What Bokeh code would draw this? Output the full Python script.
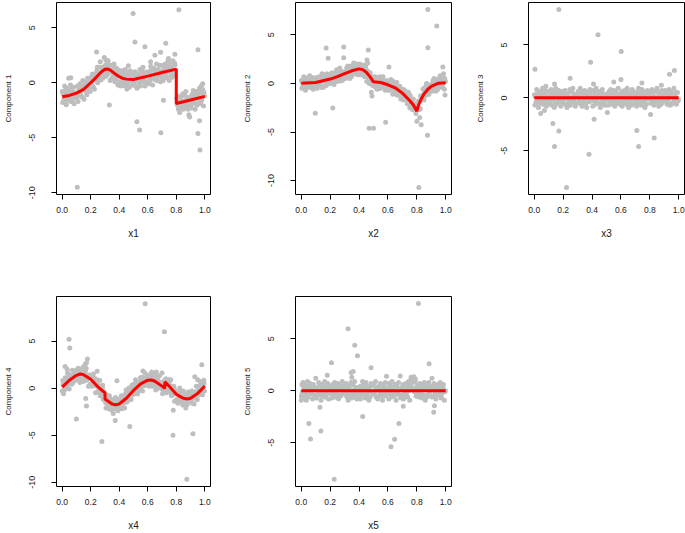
from bokeh.plotting import figure
from bokeh.layouts import row, column
from bokeh.models import Range1d, FixedTicker, NumeralTickFormatter
from bokeh.embed import file_html
from bokeh.resources import INLINE

# ---- x positions of the dense band of points ----
band_x = [
    0.001,0.004,0.009,0.012,0.017,0.021,0.026,0.029,0.035,0.038,0.043,0.049,0.052,0.058,0.061,0.067,0.072,0.078,0.084,0.093,
    0.102,0.106,0.111,0.117,0.121,0.124,0.129,0.136,0.139,0.144,0.148,0.153,0.159,0.162,0.168,0.173,0.177,0.184,0.189,0.196,
    0.201,0.205,0.212,0.215,0.219,0.226,0.231,0.234,0.239,0.246,0.249,0.253,0.258,0.264,0.267,0.273,0.279,0.284,0.288,0.295,
    0.303,0.307,0.311,0.318,0.322,0.325,0.331,0.336,0.341,0.344,0.349,0.356,0.358,0.363,0.369,0.374,0.378,0.385,0.391,0.397,
    0.402,0.405,0.409,0.416,0.419,0.424,0.428,0.435,0.438,0.443,0.448,0.454,0.457,0.462,0.468,0.471,0.477,0.483,0.489,0.494,
    0.501,0.506,0.511,0.514,0.518,0.525,0.529,0.533,0.538,0.545,0.548,0.552,0.557,0.563,0.566,0.572,0.578,0.581,0.587,0.596,
    0.603,0.606,0.609,0.615,0.621,0.624,0.628,0.634,0.639,0.643,0.649,0.653,0.656,0.661,0.668,0.673,0.677,0.682,0.689,0.694,
    0.698,0.704,0.708,0.713,0.717,0.722,0.727,0.732,0.736,0.742,0.746,0.751,0.755,0.761,0.766,0.771,0.776,0.783,0.788,0.794,
    0.803,0.806,0.811,0.815,0.821,0.824,0.829,0.834,0.838,0.845,0.849,0.852,0.858,0.861,0.867,0.872,0.878,0.883,0.887,0.893,
    0.901,0.905,0.909,0.914,0.919,0.925,0.928,0.932,0.938,0.941,0.947,0.953,0.956,0.962,0.967,0.971,0.978,0.984,0.991,0.998,
]
band_x2 = [
    0.006,0.015,0.024,0.033,0.046,0.055,0.064,0.075,0.081,0.097,
    0.108,0.114,0.127,0.133,0.142,0.151,0.165,0.171,0.181,0.193,
    0.208,0.217,0.223,0.237,0.243,0.256,0.262,0.271,0.282,0.292,
    0.305,0.314,0.327,0.334,0.347,0.353,0.366,0.372,0.383,0.394,
    0.407,0.413,0.426,0.432,0.446,0.451,0.465,0.474,0.486,0.497,
    0.504,0.516,0.522,0.536,0.543,0.555,0.561,0.574,0.584,0.592,
    0.601,0.612,0.618,0.631,0.637,0.646,0.659,0.664,0.676,0.686,
    0.701,0.711,0.719,0.725,0.734,0.744,0.753,0.764,0.774,0.791,
    0.808,0.818,0.826,0.836,0.843,0.855,0.864,0.875,0.881,0.896,
    0.903,0.912,0.922,0.935,0.944,0.951,0.959,0.969,0.981,0.994,
]

# ---- Component 1 ----
y1_band = [
    -0.8,-1.8,-1.0,-1.5,-0.3,-1.3,-0.6,-2.0,-1.1,-0.5,-1.6,-0.9,-1.2,-0.2,-1.7,-0.7,-1.4,-0.4,-1.9,-1.0,
    -1.4,-0.3,-1.7,-0.7,-0.8,-0.1,-1.1,-0.3,-1.3,0.2,-0.5,-1.5,0.0,-0.7,-0.2,-1.1,0.4,-0.4,0.3,-0.8,
    0.5,0.0,0.8,-0.4,0.5,-0.6,0.8,0.6,0.3,1.4,0.0,0.8,1.4,0.5,1.9,0.9,1.4,0.4,1.4,0.7,
    1.6,0.6,1.4,0.8,2.0,0.9,1.6,0.2,1.0,1.6,0.4,1.1,0.7,1.7,0.1,1.1,0.3,1.3,-0.2,0.7,
    0.1,1.1,-0.3,0.6,0.4,1.1,0.1,0.8,-0.3,1.2,0.4,-0.6,0.8,0.1,0.6,-0.4,1.1,0.2,0.9,-0.2,
    0.8,0.2,1.0,-0.3,0.5,-0.5,0.8,0.5,0.1,1.2,-0.3,0.5,1.1,0.1,1.4,0.3,0.8,-0.3,0.8,0.1,
    0.9,-0.1,0.7,0.3,1.5,0.5,1.2,-0.2,0.7,1.3,0.3,1.0,0.7,1.7,0.2,1.2,0.6,1.6,0.1,1.0,
    0.5,1.6,0.2,1.2,1.0,1.7,0.7,1.4,0.5,2.0,1.2,0.2,1.6,0.9,1.4,0.5,2.0,1.1,1.8,0.7,
    -1.4,-2.0,-1.2,-2.4,-1.6,-2.7,-1.4,-1.7,-2.1,-1.0,-2.4,-1.7,-1.1,-2.1,-0.8,-1.9,-1.4,-2.4,-1.4,-2.1,
    -1.3,-2.3,-1.5,-1.9,-0.7,-1.7,-1.0,-2.4,-1.4,-0.8,-1.9,-1.2,-1.5,-0.5,-1.9,-0.9,-1.6,-0.6,-2.1,-1.2,
]
y1_band2 = [
    -0.95,-1.65,-0.75,-1.35,-0.55,-1.55,-1.05,-1.75,-0.85,-1.25,
    -1.23,-0.4,-0.94,-0.5,-1.34,-0.48,0.02,-0.92,-0.44,0.1,
    0.25,-0.35,0.62,0.2,1.08,0.25,0.82,0.25,1.3,1.05,
    0.95,1.73,1.05,1.4,0.4,1.15,1.45,0.4,0.7,1.0,
    0.72,-0.02,0.82,0.2,0.94,-0.07,0.4,-0.3,0.6,0.2,
    0.01,0.84,0.26,0.7,-0.18,0.66,1.08,0.12,0.55,0.98,
    0.8,0.14,1.06,0.5,1.32,0.35,0.89,0.2,1.14,0.78,
    0.63,1.47,0.89,1.31,0.44,1.27,1.7,0.73,1.16,1.61,
    -1.67,-2.34,-1.42,-1.98,-1.16,-2.13,-1.6,-2.27,-1.35,-1.71,
    -1.87,-1.04,-1.61,-1.17,-2.04,-1.22,-0.8,-1.77,-1.33,-0.86,
]
x1_out = [0.497,0.818,0.51,0.241,0.58,0.726,0.65,0.69,0.952,0.331,0.71,0.524,0.543,0.692,0.963,0.952,0.966,0.106,
          0.894,0.888,0.464,0.045,0.06,0.79,0.295,0.305,0.985,0.975,0.745,0.62]
y1_out = [6.3,6.64,3.7,2.8,3.27,3.58,2.5,2.76,3.0,-2.03,-1.58,-3.55,-4.3,-4.55,-3.45,-4.6,-6.1,-9.5,
          -3.1,-2.9,1.55,0.4,0.45,2.6,2.3,2.1,-0.1,-0.3,2.2,1.9]
line1_x = [0.0,0.05,0.1,0.15,0.2,0.225,0.25,0.275,0.3,0.32,0.34,0.36,0.38,0.4,0.425,0.45,0.5,0.6,0.7,0.8,0.8,0.9,1.0]
line1_y = [-1.27,-1.15,-0.94,-0.6,0.0,0.32,0.66,1.0,1.23,1.25,1.12,0.92,0.72,0.55,0.4,0.33,0.3,0.6,0.93,1.24,-1.88,-1.56,-1.24]

# ---- Component 2 ----
y2_band = [
    0.3,-0.5,0.1,-0.3,0.7,-0.1,0.4,-0.7,0.0,0.5,-0.4,0.2,0.0,0.8,-0.4,0.4,-0.2,0.6,-0.6,0.2,
    -0.2,0.6,-0.5,0.3,0.2,0.7,-0.1,0.5,-0.3,1.0,0.3,-0.4,0.7,0.2,0.6,-0.2,1.0,0.3,0.9,0.0,
    0.9,0.4,1.1,0.1,0.7,-0.1,0.9,0.7,0.4,1.4,0.2,0.8,1.3,0.5,1.6,0.7,1.2,0.3,1.1,0.6,
    1.2,0.5,1.1,0.8,1.8,1.0,1.6,0.5,1.3,1.8,0.9,1.5,1.3,2.1,1.0,1.8,1.2,2.0,0.9,1.6,
    1.2,2.0,0.9,1.6,1.4,1.9,1.1,1.6,0.7,1.9,1.1,0.2,1.3,0.6,0.8,0.0,1.1,0.2,0.7,-0.2,
    0.6,0.1,0.7,-0.4,0.3,-0.6,0.4,0.2,-0.2,0.7,-0.5,0.0,0.5,-0.3,0.7,-0.2,0.2,-0.7,0.1,-0.5,
    0.1,-0.7,-0.1,-0.6,0.4,-0.5,0.1,-1.1,-0.4,0.0,-0.9,-0.4,-0.7,0.1,-1.2,-0.5,-1.1,-0.3,-1.6,-0.9,
    -1.3,-0.6,-1.7,-1.0,-1.2,-0.8,-1.6,-1.1,-2.0,-0.9,-1.6,-2.5,-1.5,-2.1,-1.8,-2.7,-1.6,-2.5,-2.1,-3.1,
    -2.3,-2.7,-1.8,-2.7,-1.8,-2.6,-1.3,-1.4,-1.6,-0.6,-1.7,-1.0,-0.4,-1.2,0.0,-0.8,-0.3,-1.1,-0.2,-0.7,
    -0.1,-0.8,-0.2,-0.5,0.5,-0.3,0.3,-0.8,0.0,0.4,-0.4,0.2,0.0,0.8,-0.4,0.4,-0.2,0.6,-0.6,0.2,
]
y2_band2 = [
    0.23,-0.4,0.41,-0.13,0.59,-0.31,0.14,-0.49,0.32,-0.04,
    -0.2,0.61,0.03,0.45,-0.42,0.41,0.86,-0.11,0.33,0.79,
    0.68,0.03,0.96,0.44,1.28,0.36,0.9,0.25,1.22,0.88,
    0.73,1.6,1.07,1.51,0.68,1.51,1.98,1.01,1.45,1.88,
    1.7,0.98,1.8,1.15,1.75,0.67,0.9,0.0,0.65,0.12,
    -0.14,0.63,0.02,0.4,-0.51,0.27,0.65,-0.4,-0.04,0.3,
    0.05,-0.7,0.17,-0.52,0.23,-0.85,-0.45,-1.2,-0.45,-0.95,
    -1.32,-0.65,-1.37,-1.06,-2.1,-1.46,-1.22,-2.45,-2.3,-2.35,
    -2.35,-2.6,-1.3,-1.55,-0.57,-1.32,-0.62,-1.1,-0.15,-0.45,
    -0.6,0.28,-0.25,0.23,-0.62,0.23,0.64,-0.35,0.06,0.47,
]
x2_out = [0.876,0.938,0.876,0.172,0.294,0.464,0.186,0.294,0.097,0.218,0.47,0.50,0.584,0.80,0.83,0.874,0.814,
          0.607,0.98,0.455,0.46,0.49,0.485,0.985,0.995,0.82]
y2_out = [7.6,5.9,3.68,3.64,3.75,3.44,2.58,2.65,-3.06,-2.54,-4.6,-4.6,-3.99,-3.9,-4.26,-5.33,-10.7,
          1.68,1.68,2.4,2.1,-1.3,-0.9,1.0,-1.2,-3.5]
line2_x = [0.0,0.1,0.2,0.25,0.3,0.35,0.4,0.425,0.45,0.475,0.5,0.55,0.6,0.65,0.7,0.75,0.775,0.8,0.81,0.825,0.85,0.875,0.9,0.95,1.0]
line2_y = [0.03,0.1,0.45,0.7,1.0,1.3,1.5,1.42,1.15,0.7,0.17,0.1,-0.14,-0.45,-1.0,-1.75,-2.2,-2.85,-2.3,-1.75,-1.07,-0.62,-0.3,0.03,0.07]

# ---- Component 3 ----
y3_band = [
    0.3,-0.7,0.1,-0.4,0.8,-0.2,0.5,-0.9,0.0,0.6,-0.5,0.2,-0.1,0.9,-0.6,0.4,-0.3,0.7,-0.8,0.1,
    -0.5,0.6,-0.1,0.8,-0.7,0.3,-0.2,0.5,-0.9,0.1,0.9,-0.6,0.4,-0.3,0.7,0.0,0.2,-0.8,0.6,-0.4,
    0.5,-0.1,0.7,-0.6,0.2,-0.9,0.4,0.1,-0.3,0.8,-0.7,0.0,0.6,-0.4,0.9,-0.2,0.3,-0.8,0.2,-0.5,
    0.6,-0.3,0.0,0.9,-0.6,0.2,-0.8,0.4,0.1,-0.2,0.7,-0.5,0.3,-0.9,0.5,0.0,-0.4,0.8,-0.1,0.2,
    0.1,-0.8,0.7,-0.3,0.4,-0.6,0.9,-0.1,0.2,-0.5,0.6,0.0,-0.9,0.5,-0.2,0.8,-0.4,0.1,-0.7,0.3,
    -0.2,0.4,-0.7,0.1,0.6,-0.4,0.8,-0.6,0.3,0.0,-0.3,0.7,-0.8,0.2,0.5,-0.5,0.1,0.9,-0.3,0.4,
    -0.4,0.6,-0.8,0.2,0.0,0.7,-0.3,0.4,-0.6,0.9,0.1,-0.9,0.5,-0.2,0.3,-0.7,0.8,-0.1,0.6,-0.5,
    -0.5,0.2,-0.8,0.3,-0.2,0.9,-0.4,0.6,0.0,-0.7,0.8,-0.3,0.1,0.4,-0.9,0.2,-0.6,0.7,-0.1,0.5,
    0.4,-0.5,0.2,0.8,-0.3,0.1,-0.7,0.6,-0.1,-0.4,0.9,-0.2,0.5,-0.8,0.3,0.1,-0.6,0.7,0.0,-0.3,
    -0.3,0.7,-0.2,0.5,-0.6,0.4,-0.1,0.8,-0.7,0.2,0.6,-0.5,0.3,-0.4,0.9,-0.1,0.1,-0.6,0.5,-0.2,
]
y3_band2 = [
    0.2,-0.5,0.4,-0.2,0.6,-0.4,0.1,-0.6,0.3,-0.1,
    -0.3,0.5,-0.1,0.3,-0.6,0.2,0.6,-0.4,0.0,0.4,
    -0.1,0.3,-0.6,0.1,-0.4,0.6,-0.2,0.4,-0.5,0.2,
    0.4,0.0,-0.4,0.6,0.2,-0.6,0.3,-0.1,0.5,-0.3,
    0.1,-0.3,0.5,-0.4,0.2,0.0,-0.6,0.4,-0.2,0.3,
    -0.2,0.4,0.0,-0.5,0.3,-0.1,0.6,-0.3,0.2,-0.6,
    0.2,-0.5,0.4,-0.2,0.6,-0.4,0.1,-0.6,0.3,-0.1,
    -0.3,0.5,-0.1,0.3,-0.6,0.2,0.6,-0.4,0.0,0.4,
    -0.1,0.3,-0.6,0.1,-0.4,0.6,-0.2,0.4,-0.5,0.2,
    0.4,0.0,-0.4,0.6,0.2,-0.6,0.3,-0.1,0.5,-0.3,
]
x3_out = [0.17,0.441,0.602,0.39,0.005,0.248,0.97,0.936,0.129,0.17,0.14,0.379,0.223,0.414,0.71,0.722,0.83,
          0.805,0.044,0.07,0.506,0.6,0.08,0.14,0.745,0.41,0.55,0.88]
y3_out = [8.33,5.96,4.38,3.37,2.71,1.86,2.59,2.24,-2.43,-3.12,-4.6,-5.33,-8.45,-2.02,-3.09,-4.6,-3.79,
          -1.58,-1.48,-1.2,-1.39,1.73,1.1,1.3,1.4,1.3,1.5,1.2]
line3_x = [0.0,1.0]
line3_y = [0.0,0.0]

# ---- Component 4 ----
y4_band = [
    -0.3,0.8,-0.6,0.5,0.4,1.1,0.2,1.0,0.0,1.6,0.9,-0.1,1.4,0.7,1.3,0.4,1.9,1.1,1.8,0.8,
    1.9,1.3,2.1,0.9,1.7,0.6,1.9,1.6,1.2,2.2,0.7,1.4,1.9,0.9,2.1,0.9,1.4,0.2,1.2,0.4,
    1.2,0.2,0.9,0.4,1.5,0.4,1.0,-0.5,0.3,0.8,-0.4,0.3,-0.1,0.8,-0.8,0.2,-0.6,0.3,-1.2,-0.4,
    -1.1,-2.1,-0.7,-1.8,-1.2,-2.2,-0.8,-1.8,-1.5,-2.3,-1.2,-1.8,-2.7,-1.3,-2.0,-1.0,-2.1,-1.6,-2.4,-1.4,
    -2.2,-1.1,-1.7,-0.8,-2.2,-1.2,-1.6,-0.8,-2.1,-1.0,-0.2,-1.5,-0.5,-1.1,0.0,-0.6,-0.3,-1.2,0.3,-0.7,
    0.4,-0.5,-0.1,0.9,-0.6,0.3,-0.6,0.6,0.4,0.2,1.1,0.0,0.8,-0.3,1.1,0.7,0.3,1.6,0.7,1.0,
    0.7,1.3,0.2,1.0,1.5,0.5,1.7,0.2,1.1,0.8,0.4,1.4,-0.2,0.8,1.0,0.0,0.5,1.3,0.0,0.6,
    0.5,-0.6,0.2,-0.4,0.8,0.4,1.0,-0.5,0.4,0.9,-0.3,0.3,0.0,0.9,-0.8,0.2,-0.7,0.2,-1.4,-0.5,
    -1.2,-0.5,-1.6,-0.5,-1.1,0.0,-1.4,-0.4,-1.0,-1.8,-0.3,-1.4,-1.0,-0.7,-2.1,-1.0,-1.7,-0.4,-1.2,-0.6,
    -0.6,-1.1,-0.3,-1.6,-0.7,-1.7,-0.4,-0.6,-1.0,0.2,-1.2,-0.4,0.2,-0.7,0.7,-0.3,0.3,-0.7,0.4,-0.3,
]
y4_band2 = [
    0.38,-0.2,0.85,0.4,1.4,0.5,1.13,0.57,1.52,1.25,
    1.1,1.95,1.4,1.8,0.87,1.63,1.9,0.84,1.1,1.38,
    1.05,0.25,1.05,0.22,0.92,-0.3,0.1,-0.75,-0.02,-0.55,
    -1.55,-0.9,-1.66,-1.33,-2.32,-1.55,-1.18,-2.18,-1.76,-1.32,
    -1.43,-2.07,-1.05,-1.58,-0.52,-1.43,-0.65,-1.2,-0.08,-0.37,
    -0.5,0.48,-0.03,0.57,-0.25,0.7,1.15,0.26,0.75,1.2,
    1.05,0.37,1.27,0.65,1.42,0.34,0.72,-0.02,0.75,0.23,
    -0.13,0.55,-0.12,0.85,-0.17,0.47,0.72,-0.5,-0.3,-0.2,
    -0.53,-1.3,-0.47,-1.17,-0.42,-1.5,-1.03,-1.75,-0.84,-1.2,
    -1.35,-0.48,-0.98,-0.45,-1.2,-0.3,0.2,-0.65,0.0,0.55,
]
x4_out = [0.582,0.717,0.048,0.053,0.177,0.979,0.566,0.384,0.099,0.278,0.165,0.17,0.372,0.474,0.779,0.777,
          0.917,0.874,0.993,0.17,0.16,0.02,0.035,0.66,0.70,0.93,0.95,0.245]
y4_out = [8.95,5.98,5.2,4.27,3.1,2.48,1.82,0.77,-3.29,-5.66,-1.1,-1.9,-3.43,-4.09,-2.34,-5.0,
          -4.86,-9.69,0.84,2.7,2.5,2.3,2.0,1.7,1.6,1.2,0.9,1.8]
line4_x = [0.0,0.05,0.1,0.125,0.15,0.2,0.25,0.3,0.3,0.35,0.375,0.4,0.45,0.5,0.55,0.6,0.625,0.65,0.7,0.72,0.72,
           0.75,0.8,0.85,0.875,0.9,0.95,1.0]
line4_y = [0.1,0.84,1.36,1.5,1.43,0.94,0.14,-0.5,-1.15,-1.68,-1.78,-1.68,-1.08,-0.25,0.45,0.84,0.87,0.73,0.21,-0.03,0.66,
           0.21,-0.66,-1.08,-1.15,-1.08,-0.56,0.21]

# ---- Component 5 ----
y5_band = [
    -0.5,0.6,-0.1,0.8,-0.7,0.3,-0.2,0.5,-0.9,0.1,0.9,-0.6,0.4,-0.3,0.7,0.0,0.2,-0.8,0.6,-0.4,
    0.3,-0.7,0.1,-0.4,0.8,-0.2,0.5,-0.9,0.0,0.6,-0.5,0.2,-0.1,0.9,-0.6,0.4,-0.3,0.7,-0.8,0.1,
    -0.2,0.4,-0.7,0.1,0.6,-0.4,0.8,-0.6,0.3,0.0,-0.3,0.7,-0.8,0.2,0.5,-0.5,0.1,0.9,-0.3,0.4,
    0.5,-0.1,0.7,-0.6,0.2,-0.9,0.4,0.1,-0.3,0.8,-0.7,0.0,0.6,-0.4,0.9,-0.2,0.3,-0.8,0.2,-0.5,
    -0.5,0.2,-0.8,0.3,-0.2,0.9,-0.4,0.6,0.0,-0.7,0.8,-0.3,0.1,0.4,-0.9,0.2,-0.6,0.7,-0.1,0.5,
    0.6,-0.3,0.0,0.9,-0.6,0.2,-0.8,0.4,0.1,-0.2,0.7,-0.5,0.3,-0.9,0.5,0.0,-0.4,0.8,-0.1,0.2,
    0.1,-0.8,0.7,-0.3,0.4,-0.6,0.9,-0.1,0.2,-0.5,0.6,0.0,-0.9,0.5,-0.2,0.8,-0.4,0.1,-0.7,0.3,
    -0.4,0.6,-0.8,0.2,0.0,0.7,-0.3,0.4,-0.6,0.9,0.1,-0.9,0.5,1.0,0.3,1.1,0.8,-0.1,0.9,-0.5,
    -0.3,0.5,-0.6,0.2,0.7,-0.5,0.6,-0.7,0.4,0.1,-0.4,0.8,-0.9,0.3,0.4,-0.6,0.2,0.8,-0.2,0.3,
    0.2,-0.6,0.3,-0.5,0.7,-0.1,0.4,-0.8,0.1,0.5,-0.4,0.3,-0.2,0.8,-0.7,0.5,-0.2,0.6,-0.9,0.0,
]
y5_band2 = [
    -0.2,0.4,0.0,-0.5,0.3,-0.1,0.6,-0.3,0.2,-0.6,
    0.1,-0.3,0.5,-0.4,0.2,0.0,-0.6,0.4,-0.2,0.3,
    -0.3,0.5,-0.1,0.3,-0.6,0.2,0.6,-0.4,0.0,0.4,
    0.2,-0.5,0.4,-0.2,0.6,-0.4,0.1,-0.6,0.3,-0.1,
    0.4,0.0,-0.4,0.6,0.2,-0.6,0.3,-0.1,0.5,-0.3,
    -0.1,0.3,-0.6,0.1,-0.4,0.6,-0.2,0.4,-0.5,0.2,
    -0.2,0.4,0.0,-0.5,0.3,-0.1,0.6,-0.3,0.2,-0.6,
    0.1,-0.3,0.5,-0.4,0.2,0.0,0.7,1.0,0.9,0.3,
    -0.3,0.5,-0.1,0.3,-0.6,0.2,0.6,-0.4,0.0,0.4,
    0.2,-0.5,0.4,-0.2,0.6,-0.4,0.1,-0.6,0.3,-0.1,
]
x5_out = [0.811,0.324,0.37,0.389,0.209,0.885,0.483,0.36,0.345,0.053,0.064,0.136,0.129,0.425,0.228,0.676,
          0.646,0.621,0.706,0.917,0.922,0.0,0.685,0.76,0.77,0.78,0.79,0.18,0.10,0.35,0.905,0.59]
y5_out = [8.38,5.97,4.38,3.37,2.7,2.6,2.22,1.85,1.75,-3.14,-4.63,-3.87,-1.59,-2.48,-8.5,-3.14,
          -4.67,-5.37,-1.49,-2.06,-1.43,-0.92,1.43,1.3,1.2,1.35,1.1,1.5,1.2,1.3,1.2,1.4]
line5_x = [0.0,1.0]
line5_y = [0.0,0.0]

x_ticks = [0.0,0.2,0.4,0.6,0.8,1.0]
y_ticks = [-10,-5,0,5]
y_tick_labels = {-10: "-10", -5: "-5", 0: "0", 5: "5"}

FONT = "Liberation Sans"
TEXT = "#1a1a1a"
POINT = "#bebebe"


def panel(xs, ys, lx, ly, yr, xlab, ylab, bl, br, bt, bb, fw, fh):
    p = figure(width=bl + fw + br, height=bt + fh + bb, output_backend="svg", toolbar_location=None,
               x_range=Range1d(-0.04, 1.04), y_range=Range1d(*yr),
               min_border_left=bl, min_border_right=br, min_border_top=bt, min_border_bottom=bb)
    p.grid.visible = False
    p.outline_line_color = "black"
    p.outline_line_width = 1
    p.outline_line_alpha = 1.0
    p.background_fill_color = "white"
    p.border_fill_color = "white"

    for (xx, yy) in zip(xs, ys):
        p.scatter(xx, yy, size=5, fill_color=POINT, line_color=None)
    p.line(lx, ly, line_color="#ff0000", line_width=3)

    for ax in (p.xaxis[0], p.yaxis[0]):
        ax.axis_line_color = None
        ax.major_tick_in = 0
        ax.major_tick_out = 5
        ax.major_tick_line_color = "black"
        ax.minor_tick_line_color = None
        ax.major_label_text_font = FONT
        ax.major_label_text_color = TEXT
        ax.axis_label_text_font = FONT
        ax.axis_label_text_color = TEXT
        ax.axis_label_text_font_style = "normal"

    xa = p.xaxis[0]
    xa.ticker = FixedTicker(ticks=x_ticks)
    xa.formatter = NumeralTickFormatter(format="0.0")
    xa.major_label_text_font_size = "8.5px"
    xa.major_label_standoff = 7
    xa.axis_label = xlab
    xa.axis_label_text_font_size = "10px"
    xa.axis_label_standoff = 12

    ya = p.yaxis[0]
    ya.ticker = FixedTicker(ticks=y_ticks)
    ya.major_label_overrides = y_tick_labels
    ya.major_label_orientation = "vertical"
    ya.major_label_text_font_size = "9px"
    ya.major_label_standoff = 16
    ya.axis_label = ylab
    ya.axis_label_text_font_size = "8px"
    ya.axis_label_standoff = 14
    return p


f1 = panel((band_x, band_x2, x1_out), (y1_band, y1_band2, y1_out), line1_x, line1_y,
           (-10.15, 7.29), "x1", "Component 1", 54, 3, 2, 60, 156, 192)
f2 = panel((band_x, band_x2, x2_out), (y2_band, y2_band2, y2_out), line2_x, line2_y,
           (-11.43, 8.33), "x2", "Component 2", 82, 3, 2, 60, 156, 192)
f3 = panel((band_x, band_x2, x3_out), (y3_band, y3_band2, y3_out), line3_x, line3_y,
           (-9.12, 9.0), "x3", "Component 3", 74, 1, 2, 60, 156, 192)
f4 = panel((band_x, band_x2, x4_out), (y4_band, y4_band2, y4_out), line4_x, line4_y,
           (-10.45, 9.73), "x4", "Component 4", 54, 3, 42, 46, 156, 191)
f5 = panel((band_x, band_x2, x5_out), (y5_band, y5_band2, y5_out), line5_x, line5_y,
           (-9.2, 9.06), "x5", "Component 5", 82, 3, 42, 46, 156, 191)

layout = column(row(f1, f2, f3), row(f4, f5))

open("out.html", "w").write(file_html(layout, INLINE))
